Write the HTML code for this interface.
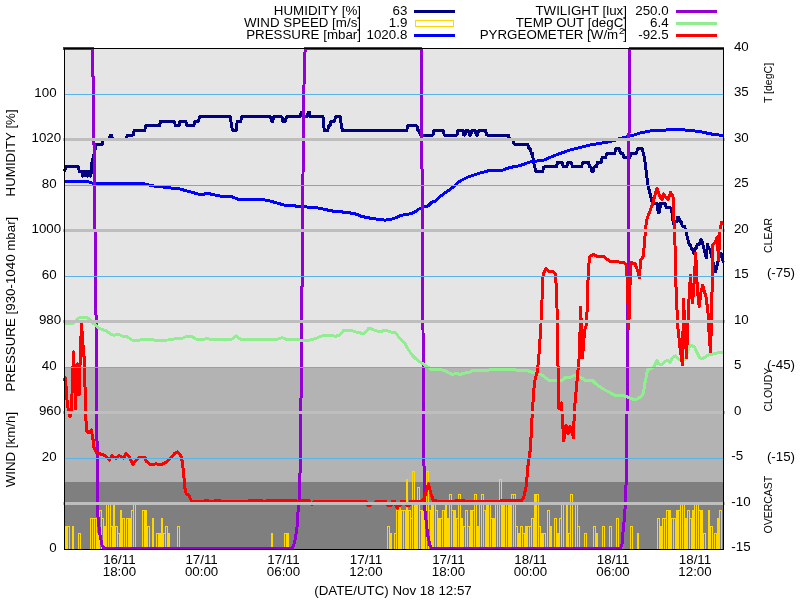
<!DOCTYPE html>
<html><head><meta charset="utf-8"><title>chart</title><style>html,body{margin:0;padding:0;background:#fff}svg{display:block}</style></head><body>
<svg width="800" height="600" viewBox="0 0 800 600">
<rect width="800" height="600" fill="#fff"/>
<g shape-rendering="crispEdges">
<rect x="64" y="48" width="660" height="320" fill="#e5e5e5"/>
<rect x="64" y="368" width="660" height="114" fill="#b3b3b3"/>
<rect x="64" y="482" width="660" height="68" fill="#7f7f7f"/>
</g>
<defs><clipPath id="c"><rect x="62.5" y="46.5" width="662" height="504.5"/></clipPath></defs>
<g clip-path="url(#c)" fill="none" stroke-width="3" stroke-linejoin="round" shape-rendering="crispEdges">
<polyline stroke="#000080" points="64.50,171.48 65.64,166.92 66.79,166.92 67.93,166.92 69.08,166.92 70.22,166.92 71.36,166.92 72.51,166.92 73.65,166.92 74.80,166.92 75.94,166.92 77.08,166.92 78.23,166.92 79.37,171.48 80.52,171.48 81.66,171.48 82.80,176.03 83.95,171.48 85.09,176.03 86.24,171.48 87.38,176.03 88.52,171.48 89.67,176.03 90.81,176.03 91.96,162.37 93.10,157.81 94.24,153.26 95.39,148.70 96.53,144.15 97.68,144.15 98.82,144.15 99.96,144.15 101.11,144.15 102.25,144.15 103.40,139.60 104.54,139.60 105.68,139.60 106.83,139.60 107.97,139.60 109.12,139.60 110.26,135.04 111.40,135.04 112.55,139.60 113.69,139.60 114.84,139.60 115.98,139.60 117.12,139.60 118.27,139.60 119.41,139.60 120.56,139.60 121.70,139.60 122.84,139.60 123.99,139.60 125.13,139.60 126.28,139.60 127.42,135.04 128.56,135.04 129.71,135.04 130.85,135.04 132.00,135.04 133.14,135.04 134.28,130.49 135.43,130.49 136.57,130.49 137.72,130.49 138.86,130.49 140.00,130.49 141.15,130.49 142.29,130.49 143.44,130.49 144.58,130.49 145.72,125.93 146.87,125.93 148.01,125.93 149.16,125.93 150.30,125.93 151.44,125.93 152.59,125.93 153.73,125.93 154.88,125.93 156.02,125.93 157.16,125.93 158.31,125.93 159.45,125.93 160.60,121.38 161.74,121.38 162.88,121.38 164.03,121.38 165.17,121.38 166.32,121.38 167.46,121.38 168.60,121.38 169.75,121.38 170.89,121.38 172.04,121.38 173.18,121.38 174.32,121.38 175.47,125.93 176.61,125.93 177.76,125.93 178.90,125.93 180.04,121.38 181.19,121.38 182.33,121.38 183.48,121.38 184.62,121.38 185.76,121.38 186.91,125.93 188.05,125.93 189.20,125.93 190.34,125.93 191.48,125.93 192.63,125.93 193.77,125.93 194.92,121.38 196.06,121.38 197.20,121.38 198.35,121.38 199.49,116.82 200.64,116.82 201.78,116.82 202.92,116.82 204.07,116.82 205.21,116.82 206.36,116.82 207.50,116.82 208.64,116.82 209.79,116.82 210.93,116.82 212.08,116.82 213.22,116.82 214.36,116.82 215.51,116.82 216.65,116.82 217.80,116.82 218.94,116.82 220.08,116.82 221.23,116.82 222.37,116.82 223.52,116.82 224.66,116.82 225.80,116.82 226.95,116.82 228.09,116.82 229.24,116.82 230.38,116.82 231.52,125.93 232.67,130.49 233.81,130.49 234.96,130.49 236.10,130.49 237.24,121.38 238.39,121.38 239.53,121.38 240.68,121.38 241.82,116.82 242.96,116.82 244.11,116.82 245.25,116.82 246.40,116.82 247.54,116.82 248.68,116.82 249.83,116.82 250.97,116.82 252.12,116.82 253.26,116.82 254.40,116.82 255.55,116.82 256.69,116.82 257.84,116.82 258.98,116.82 260.12,116.82 261.27,116.82 262.41,116.82 263.56,116.82 264.70,116.82 265.84,116.82 266.99,116.82 268.13,116.82 269.28,116.82 270.42,116.82 271.56,121.38 272.71,121.38 273.85,116.82 275.00,116.82 276.14,116.82 277.28,116.82 278.43,116.82 279.57,116.82 280.72,116.82 281.86,116.82 283.00,121.38 284.15,121.38 285.29,121.38 286.44,116.82 287.58,116.82 288.72,116.82 289.87,116.82 291.01,116.82 292.16,116.82 293.30,116.82 294.44,116.82 295.59,116.82 296.73,116.82 297.88,116.82 299.02,116.82 300.16,116.82 301.31,112.27 302.45,112.27 303.60,116.82 304.74,116.82 305.88,116.82 307.03,116.82 308.17,112.27 309.32,112.27 310.46,116.82 311.60,116.82 312.75,116.82 313.89,116.82 315.04,116.82 316.18,116.82 317.32,116.82 318.47,116.82 319.61,116.82 320.76,116.82 321.90,116.82 323.04,116.82 324.19,130.49 325.33,130.49 326.48,130.49 327.62,130.49 328.76,125.93 329.91,125.93 331.05,121.38 332.20,121.38 333.34,121.38 334.48,121.38 335.63,116.82 336.77,116.82 337.92,116.82 339.06,116.82 340.20,116.82 341.35,125.93 342.49,130.49 343.64,130.49 344.78,130.49 345.92,130.49 347.07,130.49 348.21,130.49 349.36,130.49 350.50,130.49 351.64,130.49 352.79,130.49 353.93,130.49 355.08,130.49 356.22,130.49 357.36,130.49 358.51,130.49 359.65,130.49 360.80,130.49 361.94,130.49 363.08,130.49 364.23,130.49 365.37,130.49 366.52,130.49 367.66,130.49 368.80,130.49 369.95,130.49 371.09,130.49 372.24,130.49 373.38,130.49 374.52,130.49 375.67,130.49 376.81,130.49 377.96,130.49 379.10,130.49 380.24,130.49 381.39,130.49 382.53,130.49 383.68,130.49 384.82,130.49 385.96,130.49 387.11,130.49 388.25,130.49 389.40,130.49 390.54,130.49 391.68,130.49 392.83,130.49 393.97,130.49 395.12,130.49 396.26,130.49 397.40,130.49 398.55,130.49 399.69,130.49 400.84,130.49 401.98,130.49 403.12,130.49 404.27,130.49 405.41,130.49 406.56,130.49 407.70,125.93 408.84,125.93 409.99,125.93 411.13,125.93 412.28,125.93 413.42,125.93 414.56,125.93 415.71,125.93 416.85,125.93 418.00,130.49 419.14,130.49 420.28,135.04 421.43,135.04 422.57,135.04 423.72,135.04 424.86,135.04 426.00,135.04 427.15,135.04 428.29,135.04 429.44,135.04 430.58,135.04 431.72,135.04 432.87,135.04 434.01,130.49 435.16,130.49 436.30,130.49 437.44,130.49 438.59,130.49 439.73,130.49 440.88,130.49 442.02,130.49 443.16,130.49 444.31,135.04 445.45,135.04 446.60,135.04 447.74,135.04 448.88,135.04 450.03,135.04 451.17,135.04 452.32,135.04 453.46,135.04 454.60,135.04 455.75,135.04 456.89,135.04 458.04,130.49 459.18,130.49 460.32,130.49 461.47,130.49 462.61,130.49 463.76,135.04 464.90,135.04 466.04,130.49 467.19,130.49 468.33,130.49 469.48,135.04 470.62,135.04 471.76,130.49 472.91,130.49 474.05,130.49 475.20,130.49 476.34,135.04 477.48,135.04 478.63,130.49 479.77,130.49 480.92,130.49 482.06,130.49 483.20,130.49 484.35,130.49 485.49,130.49 486.64,135.04 487.78,135.04 488.92,135.04 490.07,135.04 491.21,135.04 492.36,135.04 493.50,135.04 494.64,135.04 495.79,135.04 496.93,135.04 498.08,135.04 499.22,135.04 500.36,135.04 501.51,135.04 502.65,135.04 503.80,135.04 504.94,135.04 506.08,135.04 507.23,135.04 508.37,135.04 509.52,139.60 510.66,139.60 511.80,139.60 512.95,139.60 514.09,144.15 515.24,144.15 516.38,144.15 517.52,144.15 518.67,144.15 519.81,144.15 520.96,144.15 522.10,144.15 523.24,144.15 524.39,144.15 525.53,144.15 526.68,144.15 527.82,144.15 528.96,148.70 530.11,148.70 531.25,153.26 532.40,153.26 533.54,162.37 534.68,166.92 535.83,171.48 536.97,171.48 538.12,171.48 539.26,171.48 540.40,171.48 541.55,171.48 542.69,171.48 543.84,166.92 544.98,166.92 546.12,166.92 547.27,166.92 548.41,166.92 549.56,166.92 550.70,166.92 551.84,166.92 552.99,166.92 554.13,166.92 555.28,166.92 556.42,166.92 557.56,162.37 558.71,162.37 559.85,162.37 561.00,162.37 562.14,162.37 563.28,166.92 564.43,166.92 565.57,166.92 566.72,166.92 567.86,162.37 569.00,162.37 570.15,162.37 571.29,162.37 572.44,166.92 573.58,166.92 574.72,166.92 575.87,166.92 577.01,166.92 578.16,166.92 579.30,166.92 580.44,166.92 581.59,166.92 582.73,162.37 583.88,162.37 585.02,162.37 586.16,162.37 587.31,162.37 588.45,162.37 589.60,166.92 590.74,166.92 591.88,171.48 593.03,171.48 594.17,166.92 595.32,166.92 596.46,166.92 597.60,162.37 598.75,162.37 599.89,162.37 601.04,162.37 602.18,157.81 603.32,157.81 604.47,157.81 605.61,157.81 606.76,153.26 607.90,153.26 609.04,153.26 610.19,153.26 611.33,153.26 612.48,153.26 613.62,153.26 614.76,153.26 615.91,148.70 617.05,148.70 618.20,148.70 619.34,148.70 620.48,153.26 621.63,153.26 622.77,153.26 623.92,157.81 625.06,157.81 626.20,157.81 627.35,157.81 628.49,157.81 629.64,157.81 630.78,153.26 631.92,153.26 633.07,153.26 634.21,153.26 635.36,153.26 636.50,153.26 637.64,148.70 638.79,148.70 639.93,148.70 641.08,148.70 642.22,148.70 643.36,153.26 644.51,157.81 645.65,166.92 646.80,176.03 647.94,185.14 649.08,189.69 650.23,194.25 651.37,198.80 652.52,203.36 653.66,203.36 654.80,203.36 655.95,203.36 657.09,203.36 658.24,212.47 659.38,212.47 660.52,203.36 661.67,203.36 662.81,203.36 663.96,203.36 665.10,203.36 666.24,207.91 667.39,207.91 668.53,207.91 669.68,207.91 670.82,207.91 671.96,212.47 673.11,221.58 674.25,226.13 675.40,221.58 676.54,221.58 677.68,217.02 678.83,217.02 679.97,221.58 681.12,221.58 682.26,226.13 683.40,226.13 684.55,226.13 685.69,230.69 686.84,235.24 687.98,239.79 689.12,244.35 690.27,244.35 691.41,248.90 692.56,248.90 693.70,253.46 694.84,248.90 695.99,248.90 697.13,244.35 698.28,244.35 699.42,244.35 700.56,239.79 701.71,239.79 702.85,244.35 704.00,248.90 705.14,253.46 706.28,258.01 707.43,244.35 708.57,248.90 709.72,248.90 710.86,253.46 712.00,258.01 713.15,262.57 714.29,267.12 715.44,271.68 716.58,267.12 717.72,262.57 718.87,258.01 720.01,253.46 721.16,253.46 722.30,258.01 723.44,262.57"/>
<path stroke="#ffd700" stroke-width="1" d="M65.5 549V526.5H66.5V549M67.5 549V526.5H69.5V549M72.5 549V526.5H73.5V549M78.5 549V533.5H80.5V549M90.5 549V518.5H92.5V549M92.5 549V518.5H94.5V549M94.5 549V518.5H96.5V549M97.5 549V533.5H98.5V549M99.5 549V510.5H101.5V549M101.5 549V518.5H103.5V549M104.5 549V526.5H105.5V549M106.5 549V502.5H108.5V549M108.5 549V502.5H110.5V549M110.5 549V526.5H112.5V549M113.5 549V502.5H114.5V549M115.5 549V526.5H117.5V549M117.5 549V533.5H119.5V549M120.5 549V510.5H121.5V549M122.5 549V518.5H124.5V549M126.5 549V518.5H128.5V549M129.5 549V518.5H130.5V549M131.5 549V510.5H133.5V549M133.5 549V502.5H135.5V549M142.5 549V510.5H144.5V549M145.5 549V510.5H146.5V549M147.5 549V526.5H149.5V549M152.5 549V518.5H153.5V549M156.5 549V533.5H158.5V549M159.5 549V533.5H160.5V549M161.5 549V518.5H162.5V549M163.5 549V533.5H165.5V549M165.5 549V526.5H167.5V549M168.5 549V533.5H169.5V549M177.5 549V526.5H179.5V549M271.5 549V533.5H272.5V549M284.5 549V533.5H286.5V549M287.5 549V533.5H288.5V549M387.5 549V526.5H389.5V549M390.5 549V533.5H391.5V549M394.5 549V533.5H396.5V549M396.5 549V510.5H398.5V549M399.5 549V502.5H400.5V549M401.5 549V510.5H403.5V549M403.5 549V510.5H405.5V549M406.5 549V479.5H407.5V549M408.5 549V510.5H410.5V549M410.5 549V518.5H412.5V549M412.5 549V471.5H414.5V549M415.5 549V502.5H416.5V549M417.5 549V487.5H419.5V549M419.5 549V510.5H421.5V549M422.5 549V510.5H423.5V549M424.5 549V518.5H426.5V549M426.5 549V471.5H428.5V549M428.5 549V510.5H430.5V549M431.5 549V502.5H432.5V549M433.5 549V502.5H435.5V549M435.5 549V510.5H437.5V549M438.5 549V518.5H439.5V549M440.5 549V518.5H442.5V549M442.5 549V510.5H444.5V549M445.5 549V502.5H446.5V549M447.5 549V518.5H448.5V549M449.5 549V494.5H451.5V549M451.5 549V510.5H453.5V549M454.5 549V510.5H455.5V549M456.5 549V518.5H458.5V549M458.5 549V494.5H460.5V549M461.5 549V518.5H462.5V549M463.5 549V526.5H465.5V549M465.5 549V510.5H467.5V549M467.5 549V526.5H469.5V549M470.5 549V510.5H471.5V549M472.5 549V510.5H474.5V549M474.5 549V494.5H476.5V549M477.5 549V526.5H478.5V549M479.5 549V502.5H481.5V549M481.5 549V494.5H483.5V549M483.5 549V510.5H485.5V549M486.5 549V502.5H487.5V549M488.5 549V502.5H490.5V549M490.5 549V518.5H492.5V549M493.5 549V518.5H494.5V549M495.5 549V502.5H497.5V549M497.5 549V502.5H499.5V549M499.5 549V479.5H501.5V549M502.5 549V502.5H503.5V549M504.5 549V502.5H506.5V549M506.5 549V502.5H508.5V549M509.5 549V502.5H510.5V549M511.5 549V494.5H513.5V549M513.5 549V494.5H515.5V549M515.5 549V526.5H517.5V549M518.5 549V533.5H519.5V549M520.5 549V526.5H522.5V549M522.5 549V533.5H524.5V549M525.5 549V526.5H526.5V549M527.5 549V526.5H529.5V549M529.5 549V526.5H531.5V549M531.5 549V518.5H533.5V549M534.5 549V494.5H535.5V549M536.5 549V494.5H538.5V549M538.5 549V526.5H540.5V549M541.5 549V533.5H542.5V549M543.5 549V533.5H545.5V549M547.5 549V510.5H549.5V549M550.5 549V526.5H551.5V549M554.5 549V518.5H556.5V549M557.5 549V533.5H558.5V549M559.5 549V518.5H561.5V549M561.5 549V502.5H563.5V549M566.5 549V502.5H567.5V549M568.5 549V533.5H570.5V549M570.5 549V494.5H572.5V549M575.5 549V502.5H577.5V549M577.5 549V526.5H579.5V549M584.5 549V533.5H586.5V549M593.5 549V526.5H595.5V549M596.5 549V533.5H597.5V549M602.5 549V526.5H604.5V549M609.5 549V526.5H611.5V549M616.5 549V518.5H618.5V549M630.5 549V526.5H632.5V549M637.5 549V533.5H638.5V549M657.5 549V518.5H659.5V549M660.5 549V526.5H661.5V549M662.5 549V518.5H664.5V549M664.5 549V518.5H666.5V549M666.5 549V510.5H668.5V549M669.5 549V510.5H670.5V549M671.5 549V518.5H673.5V549M673.5 549V518.5H675.5V549M676.5 549V510.5H677.5V549M678.5 549V510.5H680.5V549M680.5 549V502.5H682.5V549M682.5 549V502.5H684.5V549M685.5 549V518.5H686.5V549M687.5 549V510.5H689.5V549M689.5 549V518.5H691.5V549M692.5 549V510.5H693.5V549M694.5 549V502.5H696.5V549M696.5 549V502.5H698.5V549M698.5 549V510.5H700.5V549M701.5 549V510.5H702.5V549M703.5 549V533.5H705.5V549M708.5 549V510.5H709.5V549M710.5 549V526.5H712.5V549M714.5 549V533.5H716.5V549M717.5 549V518.5H718.5V549M719.5 549V510.5H721.5V549"/>
<polyline stroke="#0000ff" points="64.50,181.60 88.00,181.60 92.00,183.00 140.00,183.00 154.00,186.00 180.00,189.00 198.00,194.00 203.00,194.50 208.00,193.00 212.00,194.50 220.00,196.00 230.00,196.00 240.00,200.00 247.00,199.50 254.00,199.00 262.00,199.50 270.00,201.00 284.00,205.00 300.00,206.40 320.00,208.20 326.00,209.70 333.50,211.20 342.50,212.00 354.50,213.50 362.00,216.50 371.00,218.30 380.00,219.50 385.20,220.20 393.50,218.70 401.00,215.30 410.00,213.80 414.50,212.30 418.20,209.30 425.00,206.70 428.00,206.00 431.70,202.20 436.20,200.70 440.00,196.50 452.00,188.00 460.00,181.00 468.00,177.00 480.00,173.00 490.00,170.40 500.00,171.00 510.00,167.50 520.00,165.60 530.00,162.00 544.00,160.00 556.00,155.00 570.00,150.00 590.00,145.00 610.00,141.60 622.00,138.00 634.00,135.00 640.00,133.00 650.00,131.00 660.00,130.60 668.00,129.80 685.00,130.00 700.00,131.50 710.00,133.80 723.00,135.60"/>
<polyline stroke="#9400d3" points="63.00,48.50 92.60,48.50 94.10,150.00 96.30,340.00 97.50,511.00 98.75,525.00 100.00,535.00 102.00,545.00 104.00,548.50 292.00,548.50 293.75,545.00 295.60,537.50 297.25,525.00 298.00,512.50 299.00,500.00 299.60,487.50 300.40,460.00 301.40,360.00 302.50,230.00 303.50,120.00 304.40,58.00 305.40,48.50 421.30,48.50 421.60,100.00 422.20,200.00 423.00,330.00 424.30,505.00 426.00,520.00 427.70,535.00 430.00,545.50 432.00,548.50 620.50,548.50 622.00,544.00 623.00,532.00 624.20,520.00 625.30,505.00 625.90,490.00 626.60,460.00 627.20,393.00 628.00,300.00 628.80,160.00 629.60,60.00 629.80,48.50 724.00,48.50"/>
<polyline stroke="#90ee90" points="64.50,323.00 72.50,323.75 77.50,318.75 81.00,317.00 86.00,317.00 90.00,319.40 93.00,323.00 98.75,328.00 102.50,329.75 107.00,331.25 110.00,333.75 113.75,335.25 118.75,334.40 122.50,336.25 127.50,337.00 132.00,340.00 140.00,340.00 142.50,339.40 151.00,339.40 155.00,340.25 168.00,340.00 176.00,338.60 182.00,338.50 187.00,336.00 191.00,336.00 196.00,339.00 205.00,339.00 207.00,338.00 209.00,339.00 232.00,339.00 236.40,336.00 240.00,339.00 278.00,339.00 282.00,337.60 287.00,339.50 300.00,340.00 310.00,340.00 316.00,338.40 320.00,336.60 326.00,335.00 331.00,335.00 335.00,336.40 340.00,335.00 344.00,330.00 350.00,330.00 357.00,332.40 364.00,333.60 369.00,328.00 374.00,330.00 380.00,332.00 384.00,330.40 388.00,331.00 392.00,332.40 396.00,333.00 400.00,339.00 404.00,342.00 408.00,349.00 412.00,355.00 416.00,359.00 420.00,362.00 428.00,367.00 432.00,370.00 440.00,369.60 445.00,370.60 448.75,373.00 452.50,374.40 456.25,373.50 460.00,374.40 465.00,373.00 470.00,372.00 472.50,370.60 487.50,370.60 490.00,369.75 515.00,369.75 517.50,370.60 527.50,370.60 531.25,372.00 534.40,372.25 541.00,374.40 545.00,377.50 548.75,380.25 562.50,380.25 565.60,377.50 571.25,377.00 575.00,375.00 581.00,377.50 585.00,380.25 592.50,380.60 595.00,383.00 600.00,387.00 605.00,390.00 610.00,392.50 615.00,395.50 624.00,395.80 630.00,398.00 634.00,399.50 637.00,399.00 641.00,396.50 643.50,393.00 644.50,385.00 646.00,378.00 647.50,370.00 650.00,369.00 654.00,367.00 655.50,363.00 657.00,360.00 658.75,363.75 661.25,365.00 665.00,361.25 667.50,360.60 670.00,362.50 672.50,358.00 675.25,356.00 678.00,358.75 682.00,360.50 685.00,359.70 687.50,352.50 689.40,347.00 691.25,345.50 694.75,347.30 697.00,352.50 699.25,357.50 702.25,359.00 706.00,356.70 709.00,354.50 715.00,353.70 719.50,352.20 723.00,353.00"/>
<polyline stroke="#ff0000" points="63.50,381.00 65.50,378.00 67.00,400.00 68.00,408.00 70.00,417.00 71.50,408.00 72.50,380.00 73.50,352.00 74.50,375.00 75.50,409.00 76.50,385.00 77.50,364.00 79.00,395.00 80.50,350.00 81.50,323.00 83.00,345.00 84.50,362.00 85.20,395.00 85.80,414.00 86.30,430.00 88.00,433.00 91.25,430.00 92.75,437.50 94.00,447.50 96.25,452.50 100.00,453.75 105.00,455.50 109.40,460.00 112.00,455.50 116.00,458.50 119.00,455.50 123.75,458.00 126.00,453.75 128.75,456.00 133.00,464.40 136.00,460.00 140.00,457.00 145.00,457.50 146.00,461.00 151.00,465.00 156.00,463.75 160.00,465.00 166.00,462.50 171.00,457.50 175.00,453.00 177.50,452.00 180.60,455.00 182.50,462.50 183.75,475.00 184.75,487.50 186.25,493.75 188.75,495.00 191.25,500.60 193.00,501.50 204.00,501.50 205.00,500.50 208.00,500.50 209.00,501.50 214.00,501.50 215.00,500.50 220.00,500.50 221.00,501.50 248.00,501.50 249.00,500.50 262.00,500.50 263.00,501.50 266.00,501.50 267.00,500.50 296.00,500.50 297.00,501.50 300.00,501.50 301.00,500.50 309.00,500.50 310.00,503.00 312.00,504.50 314.00,501.50 366.00,501.50 367.50,505.00 370.50,505.00 372.00,503.50 375.00,503.50 376.00,501.50 385.50,501.50 387.00,505.00 391.50,505.00 392.50,501.50 394.50,501.50 395.50,505.00 397.50,508.00 399.00,505.00 400.50,505.00 401.50,501.50 404.50,501.50 406.00,505.00 409.50,505.00 410.50,501.50 420.00,501.50 423.00,500.50 425.50,494.00 428.50,484.00 431.00,494.00 433.50,500.50 440.00,501.50 455.00,501.50 456.00,500.50 464.00,500.50 465.00,501.50 500.00,501.50 501.00,500.50 521.50,500.50 523.70,497.50 526.00,487.00 527.50,472.00 528.30,462.00 529.40,457.50 530.60,446.00 531.50,427.50 532.50,408.75 533.50,395.00 534.40,382.50 537.00,372.50 538.50,361.00 539.60,345.00 541.00,323.75 542.00,300.00 542.75,279.00 543.75,272.50 546.25,268.50 548.75,271.25 553.00,271.25 555.25,273.75 556.00,282.50 557.00,307.50 557.50,340.00 558.50,390.00 559.00,409.00 561.50,403.00 562.50,421.00 563.75,441.00 566.00,425.00 568.00,434.00 570.00,426.00 573.50,437.50 574.40,409.00 576.25,390.00 577.50,375.00 579.50,354.00 580.60,307.50 582.50,358.00 584.50,331.00 586.25,325.00 587.00,312.50 587.75,285.00 588.75,265.00 590.00,256.50 591.25,255.60 593.75,254.40 597.50,257.00 603.75,256.50 607.50,259.40 610.00,261.25 618.75,262.00 623.75,262.50 626.25,265.00 627.50,285.00 628.75,328.75 630.00,285.00 631.00,262.50 635.00,263.75 637.50,270.00 639.40,278.00 640.60,260.00 643.00,257.00 644.40,245.00 645.60,227.50 647.00,218.75 650.00,211.00 653.00,202.50 655.00,195.00 657.00,188.00 660.00,197.00 662.00,199.40 663.50,193.75 665.60,197.00 668.00,199.40 670.60,192.50 673.00,196.25 673.75,215.00 675.00,245.00 675.60,277.50 677.00,310.00 678.00,328.75 680.00,347.50 682.50,365.00 683.50,299.40 685.00,330.00 686.50,357.50 688.70,305.00 690.40,275.00 692.50,303.00 693.70,290.00 695.70,253.00 697.50,292.00 699.20,306.30 701.00,292.00 702.70,285.30 706.20,297.50 708.00,313.00 709.30,338.00 710.50,351.50 711.70,317.00 712.60,245.00 715.00,242.50 717.30,237.00 718.50,260.00 720.00,232.00 721.50,222.00 723.50,222.00"/>
</g>
<g shape-rendering="crispEdges">
<rect x="65" y="94" width="658" height="1" fill="#56b4e9"/>
<rect x="65" y="185" width="658" height="1" fill="#56b4e9"/>
<rect x="65" y="276" width="658" height="1" fill="#56b4e9"/>
<rect x="65" y="367" width="658" height="1" fill="#56b4e9"/>
<rect x="65" y="458" width="658" height="1" fill="#56b4e9"/>
<rect x="63" y="138" width="662" height="3" fill="#bebebe"/>
<rect x="63" y="229" width="662" height="3" fill="#bebebe"/>
<rect x="63" y="320" width="662" height="3" fill="#bebebe"/>
<rect x="63" y="411" width="662" height="3" fill="#bebebe"/>
<rect x="63" y="502" width="662" height="3" fill="#bebebe"/>
<rect x="64.5" y="48.5" width="659" height="501" fill="none" stroke="#000" stroke-width="1"/>
<rect x="414" y="10" width="41" height="3" fill="#000080"/>
<rect x="415.5" y="20.5" width="38" height="6" fill="#fff" stroke="#ffd700" stroke-width="1"/>
<rect x="414" y="34" width="41" height="3" fill="#0000ff"/>
<rect x="676" y="10" width="41" height="3" fill="#9400d3"/>
<rect x="676" y="22" width="41" height="3" fill="#90ee90"/>
<rect x="676" y="34" width="41" height="3" fill="#ff0000"/>
</g>
<g font-family="Liberation Sans, sans-serif" font-size="13.33px" fill="#000" style="opacity:0.999">
<text x="361" y="14.6" text-anchor="end">HUMIDITY [%]</text>
<text x="407.3" y="14.6" text-anchor="end">63</text>
<text x="361" y="26.6" text-anchor="end">WIND SPEED [m/s]</text>
<text x="407.3" y="26.6" text-anchor="end">1.9</text>
<text x="361" y="38.6" text-anchor="end">PRESSURE [mbar]</text>
<text x="407.3" y="38.6" text-anchor="end">1020.8</text>
<text x="627" y="14.6" text-anchor="end">TWILIGHT [lux]</text><text x="668.6" y="14.6" text-anchor="end">250.0</text>
<text x="627" y="26.6" text-anchor="end">TEMP OUT [degC]</text><text x="668.6" y="26.6" text-anchor="end">6.4</text>
<text x="618.2" y="38.6" text-anchor="end">PYRGEOMETER [W/m</text><text x="619" y="33.6" font-size="9.5px">2</text><text x="627" y="38.6" text-anchor="end">]</text><text x="668.6" y="38.6" text-anchor="end">-92.5</text>
<text x="56.6" y="96.6" text-anchor="end">100</text>
<text x="56.6" y="187.6" text-anchor="end">80</text>
<text x="56.6" y="278.6" text-anchor="end">60</text>
<text x="56.6" y="369.6" text-anchor="end">40</text>
<text x="56.6" y="460.6" text-anchor="end">20</text>
<text x="56.6" y="551.6" text-anchor="end">0</text>
<text x="61.2" y="141.6" text-anchor="end">1020</text>
<text x="61.2" y="232.6" text-anchor="end">1000</text>
<text x="61.2" y="323.6" text-anchor="end">980</text>
<text x="61.2" y="414.6" text-anchor="end">960</text>
<text x="733.9" y="50.6">40</text>
<text x="733.9" y="96.1">35</text>
<text x="733.9" y="141.6">30</text>
<text x="733.9" y="187.1">25</text>
<text x="733.9" y="232.6">20</text>
<text x="733.9" y="278.1">15</text>
<text x="733.9" y="323.6">10</text>
<text x="733.9" y="369.1">5</text>
<text x="733.9" y="414.6">0</text>
<text x="731.3" y="460.1">-5</text>
<text x="731.3" y="505.6">-10</text>
<text x="731.3" y="551.1">-15</text>
<text x="781" y="277.3" text-anchor="middle">(-75)</text>
<text x="781" y="369.3" text-anchor="middle">(-45)</text>
<text x="781" y="460.8" text-anchor="middle">(-15)</text>
<text x="119.4" y="564" text-anchor="middle">16/11</text><text x="119.4" y="576" text-anchor="middle">18:00</text>
<text x="201.6" y="564" text-anchor="middle">17/11</text><text x="201.6" y="576" text-anchor="middle">00:00</text>
<text x="283.5" y="564" text-anchor="middle">17/11</text><text x="283.5" y="576" text-anchor="middle">06:00</text>
<text x="366" y="564" text-anchor="middle">17/11</text><text x="366" y="576" text-anchor="middle">12:00</text>
<text x="448.4" y="564" text-anchor="middle">17/11</text><text x="448.4" y="576" text-anchor="middle">18:00</text>
<text x="530.5" y="564" text-anchor="middle">18/11</text><text x="530.5" y="576" text-anchor="middle">00:00</text>
<text x="613" y="564" text-anchor="middle">18/11</text><text x="613" y="576" text-anchor="middle">06:00</text>
<text x="695" y="564" text-anchor="middle">18/11</text><text x="695" y="576" text-anchor="middle">12:00</text>
<text x="393" y="594.6" text-anchor="middle">(DATE/UTC) Nov 18 12:57</text>
<text transform="translate(15,152.9) rotate(-90)" text-anchor="middle">HUMIDITY [%]</text>
<text transform="translate(15,304.1) rotate(-90)" text-anchor="middle">PRESSURE [930-1040 mbar]</text>
<text transform="translate(15,449.6) rotate(-90)" text-anchor="middle">WIND [km/h]</text>
</g>
<g font-family="Liberation Sans, sans-serif" font-size="10.5px" fill="#000" style="opacity:0.999">
<text transform="translate(771.8,83) rotate(-90)" text-anchor="middle">T [degC]</text>
<text transform="translate(771.8,235.4) rotate(-90)" text-anchor="middle">CLEAR</text>
<text transform="translate(771.8,389.6) rotate(-90)" text-anchor="middle">CLOUDY</text>
<text transform="translate(771.8,504.6) rotate(-90)" text-anchor="middle">OVERCAST</text>
</g>
</svg>
</body></html>
